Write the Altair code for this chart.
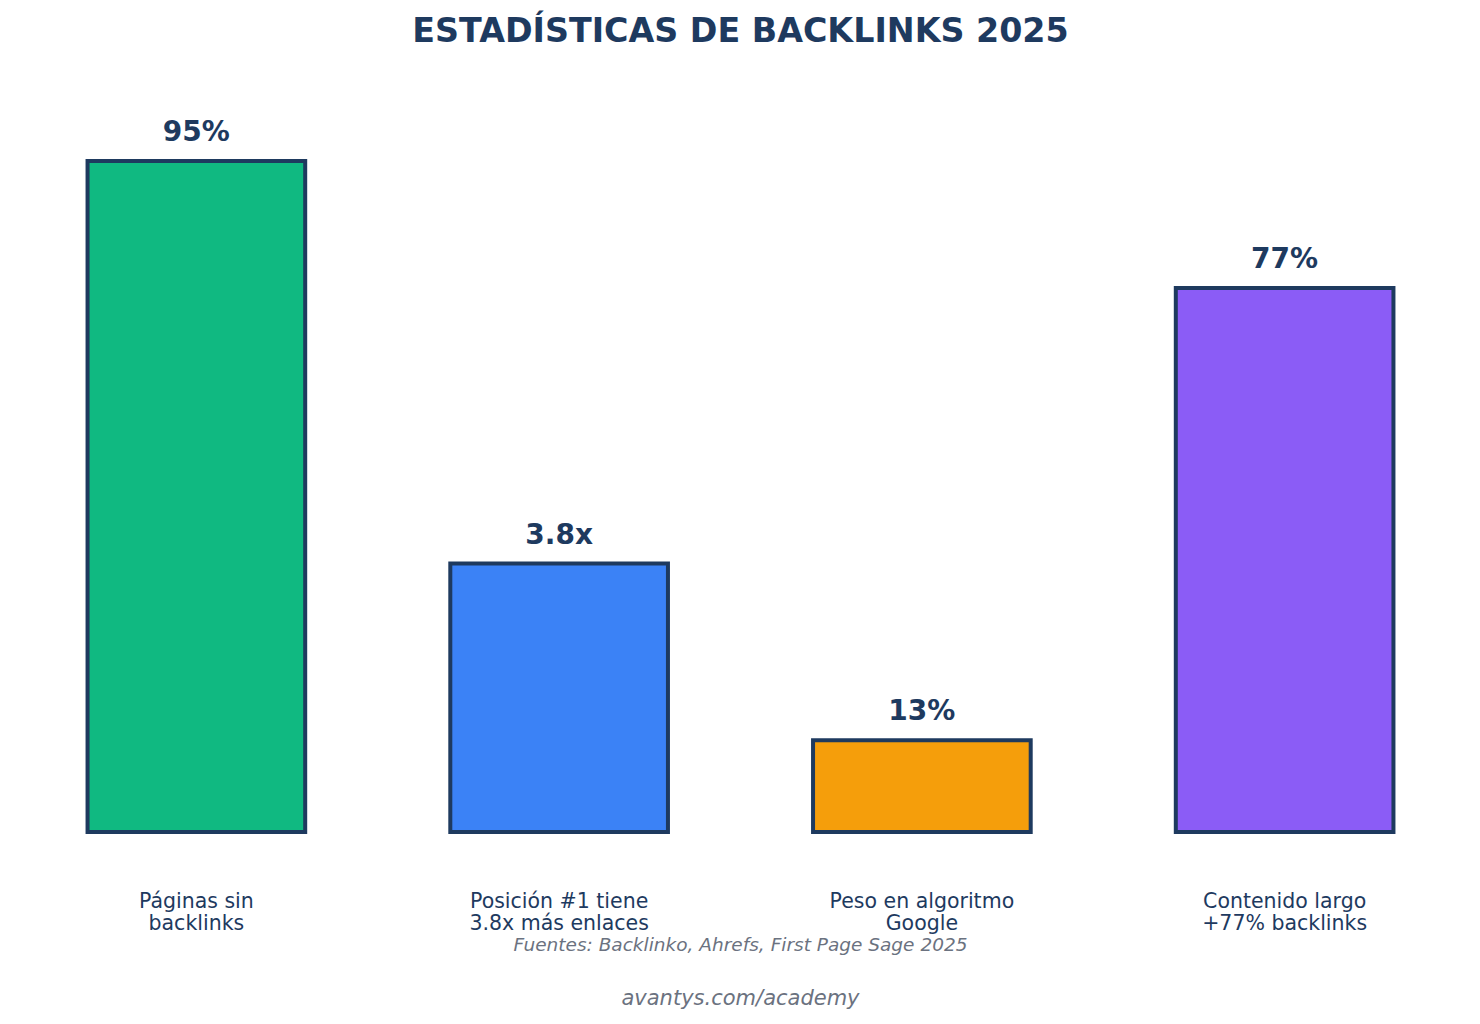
import altair as alt
import pandas as pd

categories = ["Páginas sin\nbacklinks", "Posición #1 tiene\n3.8x más enlaces", "Peso en algoritmo\nGoogle", "Contenido largo\n+77% backlinks"]
values = [95, 38, 13, 77]
value_labels = ["95%", "3.8x", "13%", "77%"]
colors = ["#10b981", "#3b82f6", "#f59e0b", "#8b5cf6"]
title_text = "ESTADÍSTICAS DE BACKLINKS 2025"
source_text = "Fuentes: Backlinko, Ahrefs, First Page Sage 2025"
site_text = "avantys.com/academy"

NAVY = "#1e3a5f"
FONT = "DejaVu Sans"
W, H = 1451, 777

df = pd.DataFrame({"cat": categories, "value": values, "label": value_labels, "color": colors})

x = alt.X("cat:N", sort=categories, title=None,
          scale=alt.Scale(paddingInner=0.4, paddingOuter=0.2),
          axis=alt.Axis(labelAngle=0, domain=False, ticks=False, labelPadding=69,
                        labelFontSize=20.5, labelFont=FONT, labelColor=NAVY, labelLineHeight=22,
                        labelLimit=500,
                        labelExpr="split(datum.label, '\\n')", labelBaseline="middle"))
y = alt.Y("value:Q", scale=alt.Scale(domain=[0, 110], nice=False), axis=None)

bars = alt.Chart(df).mark_bar(stroke=NAVY, strokeWidth=4).encode(
    x=x, y=y, color=alt.Color("color:N", scale=None))

texts = alt.Chart(df).mark_text(dy=-28, fontSize=28, fontWeight="bold", font=FONT,
                                color=NAVY, baseline="middle").encode(
    x=alt.X("cat:N", sort=categories), y="value:Q", text="label:N")

title = alt.Chart(pd.DataFrame({"t": [title_text]})).mark_text(
    fontSize=33.3, fontWeight="bold", font=FONT, color=NAVY, baseline="middle").encode(
    x=alt.value(W / 2), y=alt.value(-23), text="t:N")

source = alt.Chart(pd.DataFrame({"t": [source_text]})).mark_text(
    fontSize=18.5, fontStyle="italic", font=FONT, color="#6b7280", baseline="middle").encode(
    x=alt.value(W / 2), y=alt.value(H + 113), text="t:N")
footer = alt.Chart(pd.DataFrame({"t": [site_text]})).mark_text(
    fontSize=21, fontStyle="italic", font=FONT, color="#6b7280", baseline="middle").encode(
    x=alt.value(W / 2), y=alt.value(H + 167), text="t:N")

chart = alt.layer(bars, texts, title, source, footer).properties(
    width=W, height=H,
    background="white",
    autosize=alt.AutoSizeParams(type="none"),
    padding={"left": 15, "top": 55, "right": 14, "bottom": 192},
).configure_view(strokeWidth=0, stroke=None)

chart.save("out.html", embed_options={"renderer": "svg", "actions": False})
